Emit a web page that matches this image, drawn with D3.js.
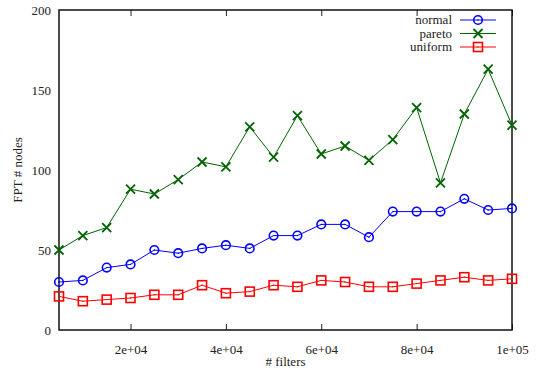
<!DOCTYPE html>
<html>
<head>
<meta charset="utf-8">
<script src="https://cdn.jsdelivr.net/npm/d3@7"></script>
<style>
  html, body { margin: 0; padding: 0; background: #fff; }
  svg { display: block; }
</style>
</head>
<body>
<svg id="chart" width="539" height="372"></svg>
<script>
// Number of filters on the x axis
const filters = [5000, 10000, 15000, 20000, 25000, 30000, 35000, 40000, 45000, 50000,
                 55000, 60000, 65000, 70000, 75000, 80000, 85000, 90000, 95000, 100000];
// FPT node counts per distribution
const normal  = [30, 31, 39, 41, 50, 48, 51, 53, 51, 59, 59, 66, 66, 58, 74, 74, 74, 82, 75, 76];
const pareto  = [50, 59, 64, 88, 85, 94, 105, 102, 127, 108, 134, 110, 115, 106, 119, 139, 92, 135, 163, 128];
const uniform = [21, 18, 19, 20, 22, 22, 28, 23, 24, 28, 27, 31, 30, 27, 27, 29, 31, 33, 31, 32];

const xTicks = [20000, 40000, 60000, 80000, 100000];
const xTickLabels = ["2e+04", "4e+04", "6e+04", "8e+04", "1e+05"];
const yTicks = [0, 50, 100, 150, 200];

const series = [
  { name: "normal",  values: normal,  color: "#0000ff", marker: "circle" },
  { name: "pareto",  values: pareto,  color: "#006400", marker: "cross" },
  { name: "uniform", values: uniform, color: "#ff0000", marker: "square" }
];

const FONT = "'Liberation Serif', 'Times New Roman', 'DejaVu Serif', serif";
const FS = 13;

const svg = d3.select("#chart");
const margin = { left: 59, right: 27, top: 10, bottom: 42 };
const W = 539, H = 372;
const x = d3.scaleLinear().domain([5000, 100000]).range([margin.left, W - margin.right]);
const y = d3.scaleLinear().domain([0, 200]).range([H - margin.bottom, margin.top]);

// Bottom axis: tick marks pointing inward, labels below
const xAxis = d3.axisBottom(x).tickValues(xTicks)
  .tickFormat((d, i) => xTickLabels[i]).tickSizeInner(-6).tickSizeOuter(0).tickPadding(15);
const gx = svg.append("g").attr("transform", `translate(0,${y(0)})`).call(xAxis)
  .attr("font-family", FONT).attr("font-size", FS);
gx.select(".domain").remove();
gx.selectAll("line").attr("stroke", "#222");
gx.selectAll("text").attr("fill", "#222");

// Top mirror ticks
const gxTop = svg.append("g").attr("transform", `translate(0,${y(200)})`)
  .call(d3.axisTop(x).tickValues(xTicks).tickFormat("").tickSizeInner(-6).tickSizeOuter(0));
gxTop.select(".domain").remove();
gxTop.selectAll("line").attr("stroke", "#222");

// Left axis labels
const yAxis = d3.axisLeft(y).tickValues(yTicks).tickSize(0).tickPadding(8);
const gy = svg.append("g").attr("transform", `translate(${x(5000)},0)`).call(yAxis)
  .attr("font-family", FONT).attr("font-size", FS);
gy.select(".domain").remove();
gy.selectAll("text").attr("fill", "#222");

// Plot border
svg.append("rect")
  .attr("x", x(5000)).attr("y", y(200))
  .attr("width", x(100000) - x(5000)).attr("height", y(0) - y(200))
  .attr("fill", "none").attr("stroke", "#111").attr("stroke-width", 1.5);

// Axis titles
svg.append("text").attr("x", (x(5000) + x(100000)) / 2).attr("y", 366)
  .attr("text-anchor", "middle").attr("font-family", FONT).attr("font-size", FS)
  .attr("fill", "#222").text("# filters");
svg.append("text")
  .attr("transform", `translate(22,${(y(0) + y(200)) / 2}) rotate(-90)`)
  .attr("text-anchor", "middle").attr("font-family", FONT).attr("font-size", FS)
  .attr("fill", "#222").text("FPT # nodes");

function drawMarker(g, type, color) {
  if (type === "circle") {
    g.append("circle").attr("r", 4.3).attr("fill", "none").attr("stroke", color).attr("stroke-width", 1.6);
  } else if (type === "square") {
    g.append("rect").attr("x", -4.5).attr("y", -4.5).attr("width", 9).attr("height", 9)
      .attr("fill", "none").attr("stroke", color).attr("stroke-width", 1.6);
  } else {
    g.append("path").attr("d", "M-4.5,-4.5L4.5,4.5M-4.5,4.5L4.5,-4.5")
      .attr("stroke", color).attr("stroke-width", 1.8);
  }
  if (type !== "cross") {
    g.append("circle").attr("r", 0.7).attr("fill", color);
  }
}

const line = d3.line().x((d, i) => x(filters[i])).y(d => y(d));

series.forEach(s => {
  svg.append("path").datum(s.values).attr("d", line)
    .attr("fill", "none").attr("stroke", s.color).attr("stroke-width", 1);
  svg.append("g").selectAll("g").data(s.values).join("g")
    .attr("transform", (d, i) => `translate(${x(filters[i])},${y(d)})`)
    .each(function () { drawMarker(d3.select(this), s.marker, s.color); });
});

// Legend
const legend = svg.append("g");
series.forEach((s, i) => {
  const ly = 20 + i * 13.5;
  legend.append("text").attr("x", 452).attr("y", ly + 4).attr("text-anchor", "end")
    .attr("font-family", FONT).attr("font-size", FS).attr("fill", "#222").text(s.name);
  legend.append("line").attr("x1", 460).attr("x2", 496).attr("y1", ly).attr("y2", ly)
    .attr("stroke", s.color).attr("stroke-width", 1);
  drawMarker(legend.append("g").attr("transform", `translate(478,${ly})`), s.marker, s.color);
});
</script>
</body>
</html>
